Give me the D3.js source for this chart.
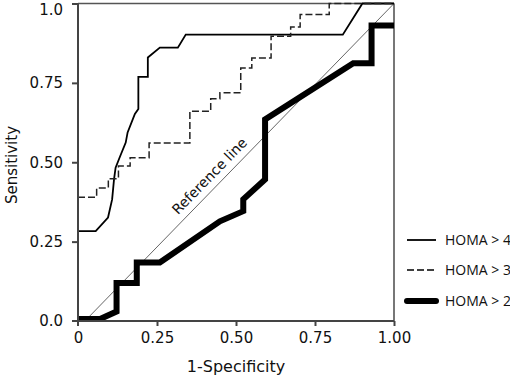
<!DOCTYPE html>
<html><head><meta charset="utf-8">
<script src="https://cdn.jsdelivr.net/npm/d3@7"></script>
<style>
body{margin:0;background:#fff;}
svg{display:block;}
text{font-family:"DejaVu Sans",sans-serif;fill:#111;}
</style></head>
<body>
<svg id="chart" width="510" height="378"></svg>
<script>
// ---- data ----
const xTicks = [0, 0.25, 0.5, 0.75, 1];
const xTickLabels = ["0", "0.25", "0.50", "0.75", "1.00"];
const yTicks = [0, 0.25, 0.5, 0.75, 1];
const yTickLabels = ["0.0", "0.25", "0.50", "0.75", "1.0"];

// HOMA > 4 (solid)
const homa4X = [0, 0.056, 0.095, 0.108, 0.114, 0.119, 0.133, 0.151, 0.157, 0.180, 0.191, 0.191, 0.221, 0.221, 0.259, 0.316, 0.341, 0.838, 0.900, 1.0];
const homa4Y = [0.283, 0.283, 0.326, 0.383, 0.446, 0.483, 0.518, 0.562, 0.594, 0.652, 0.668, 0.769, 0.769, 0.830, 0.861, 0.861, 0.902, 0.902, 1.0, 1.0];

// HOMA > 3 (dashed)
const homa3X = [0, 0.059, 0.059, 0.096, 0.096, 0.128, 0.128, 0.165, 0.165, 0.225, 0.225, 0.354, 0.354, 0.420, 0.420, 0.449, 0.449, 0.515, 0.515, 0.550, 0.550, 0.611, 0.611, 0.673, 0.673, 0.703, 0.703, 0.795, 0.795, 1.0];
const homa3Y = [0.390, 0.390, 0.419, 0.419, 0.448, 0.448, 0.488, 0.488, 0.514, 0.514, 0.561, 0.561, 0.661, 0.661, 0.700, 0.700, 0.719, 0.719, 0.797, 0.797, 0.828, 0.828, 0.897, 0.897, 0.926, 0.926, 0.965, 0.965, 1.0, 1.0];

// HOMA > 2 (thick)
const homa2X = [0, 0.070, 0.122, 0.122, 0.186, 0.186, 0.259, 0.449, 0.523, 0.523, 0.592, 0.592, 0.871, 0.929, 0.929, 1.0];
const homa2Y = [0.006, 0.006, 0.030, 0.120, 0.120, 0.184, 0.184, 0.314, 0.346, 0.383, 0.446, 0.635, 0.812, 0.812, 0.931, 0.931];

// reference line
const refX = [0.022, 1.0];
const refY = [0, 1.0];

const legendLabels = ["HOMA > 4", "HOMA > 3", "HOMA > 2"];

// ---- drawing ----
const svg = d3.select("#chart");
const x = d3.scaleLinear().domain([0, 1]).range([78, 394]);
const y = d3.scaleLinear().domain([0, 1]).range([321, 3.5]);
const axisColor = "#444";

// frame (top & right)
svg.append("line").attr("x1", x(0)).attr("x2", x(1)).attr("y1", y(1)).attr("y2", y(1))
  .attr("stroke", "#555").attr("stroke-width", 1.6);
svg.append("line").attr("x1", x(1)).attr("x2", x(1)).attr("y1", y(1)).attr("y2", y(0))
  .attr("stroke", "#555").attr("stroke-width", 1.6);

// reference line
svg.append("line").attr("x1", x(refX[0])).attr("y1", y(refY[0]))
  .attr("x2", x(refX[1])).attr("y2", y(refY[1]))
  .attr("stroke", "#666").attr("stroke-width", 1);

const ang = Math.atan2(y(refY[1]) - y(refY[0]), x(refX[1]) - x(refX[0])) * 180 / Math.PI;
const tpx = 0.443, tpy = (tpx - refX[0]) / (refX[1] - refX[0]);
svg.append("text").attr("transform", `translate(${x(tpx)},${y(tpy)}) rotate(${ang})`)
  .attr("dy", -7).attr("text-anchor", "middle").attr("font-size", 14).text("Reference line");

const line = d3.line().x(d => x(d[0])).y(d => y(d[1]));
const zip = (a, b) => a.map((v, i) => [v, b[i]]);

svg.append("path").datum(zip(homa4X, homa4Y)).attr("d", line)
  .attr("fill", "none").attr("stroke", "#000").attr("stroke-width", 1.8);
svg.append("path").datum(zip(homa3X, homa3Y)).attr("d", line)
  .attr("fill", "none").attr("stroke", "#222").attr("stroke-width", 1.5).attr("stroke-dasharray", "7,3");
svg.append("path").datum(zip(homa2X, homa2Y)).attr("d", line)
  .attr("fill", "none").attr("stroke", "#000").attr("stroke-width", 6).attr("stroke-linejoin", "miter");

// axes
const xAxis = d3.axisBottom(x).tickValues(xTicks).tickFormat((d, i) => xTickLabels[i])
  .tickSizeInner(5).tickSizeOuter(0).tickPadding(6);
const gx = svg.append("g").attr("transform", `translate(0,${y(0)})`).call(xAxis);
gx.select(".domain").attr("stroke", axisColor).attr("stroke-width", 2)
  .attr("d", `M${x(0) - 6},0H${x(1)}`);
gx.selectAll(".tick line").attr("stroke", axisColor).attr("stroke-width", 2);
gx.selectAll(".tick text").attr("font-size", 15).attr("fill", "#111").style("font-family", "DejaVu Sans");

const yAxis = d3.axisLeft(y).tickValues(yTicks).tickFormat((d, i) => yTickLabels[i])
  .tickSizeInner(6).tickSizeOuter(0).tickPadding(9);
const gy = svg.append("g").attr("transform", `translate(${x(0)},0)`).call(yAxis);
gy.select(".domain").attr("stroke", axisColor).attr("stroke-width", 2)
  .attr("d", `M0,${y(1)}V${y(0) + 5}`);
gy.selectAll(".tick line").attr("stroke", axisColor).attr("stroke-width", 2);
gy.selectAll(".tick text").attr("font-size", 15).attr("fill", "#111").style("font-family", "DejaVu Sans");
gy.selectAll(".tick").filter(d => d === 1).select("text").attr("dy", "0.7em");
gx.selectAll(".tick").filter(d => d === 0).select("line").remove();
gy.selectAll(".tick").filter(d => d === 0).select("line").attr("x2", 0);

// axis titles
svg.append("text").attr("x", 236).attr("y", 372).attr("text-anchor", "middle")
  .attr("font-size", 16).text("1-Specificity");
svg.append("text").attr("transform", "translate(17,165) rotate(-90)").attr("text-anchor", "middle")
  .attr("font-size", 15).text("Sensitivity");

// legend
const legStyles = [
  {w: 1.8, dash: null, cap: "butt"},
  {w: 1.5, dash: "7,3", cap: "butt"},
  {w: 6, dash: null, cap: "round"}
];
const legY = [240, 270, 301];
legendLabels.forEach((lab, i) => {
  const s = legStyles[i];
  const l = svg.append("line").attr("x1", 407).attr("x2", 436).attr("y1", legY[i]).attr("y2", legY[i])
    .attr("stroke", "#000").attr("stroke-width", s.w).attr("stroke-linecap", s.cap);
  if (s.dash) l.attr("stroke-dasharray", s.dash);
  svg.append("text").attr("x", 445).attr("y", legY[i]).attr("dy", "0.35em")
    .attr("font-size", 14).style("font-family", "'Open Sans',sans-serif").text(lab);
});
</script>
</body></html>
